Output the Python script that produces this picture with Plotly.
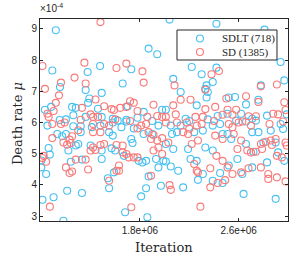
import plotly.graph_objects as go

# Iteration (in millions) and death rate (in units of 1e-4)
sdlt_iter_m = [
    1.118, 1.09, 1.376, 1.477, 1.152, 1.36, 1.49, 1.39, 1.38, 1.08, 1.25, 1.28, 1.46, 1.03,
    1.26, 1.20, 1.15, 1.36, 1.49, 1.05, 1.26, 1.32, 1.41, 1.48, 1.13, 1.17, 1.20, 1.32,
    1.30, 1.28, 1.22, 1.40, 1.06, 1.07, 1.00, 1.33, 1.24, 1.49, 1.49, 1.00, 1.04, 1.21,
    1.33, 1.10, 1.01, 1.18, 1.87, 1.94, 1.73, 1.66, 1.70, 1.83, 1.98, 1.58, 1.69, 1.78,
    1.58, 1.62, 1.69, 1.75, 1.95, 1.55, 1.58, 1.83, 1.90, 1.73, 1.74, 1.57, 1.60, 1.67,
    1.79, 1.82, 1.85, 1.93, 1.99, 1.95, 1.59, 1.87, 1.54, 1.55, 1.85, 1.97, 1.81, 1.68,
    1.86, 2.04, 2.42, 2.22, 2.42, 2.07, 2.30, 2.39, 2.34, 2.33, 2.35, 2.34, 2.13, 2.26,
    2.01, 2.43, 2.17, 2.05, 2.13, 2.10, 2.06, 2.24, 2.31, 2.39, 2.47, 2.01, 2.07, 2.19,
    2.33, 2.39, 2.01, 2.05, 2.11, 2.21, 2.26, 2.31, 2.27, 2.45, 2.39, 2.47, 2.15, 2.81,
    2.94, 2.97, 2.78, 2.52, 2.57, 2.66, 2.76, 2.62, 2.51, 2.71, 2.83, 2.99, 2.58, 2.66,
    2.74, 2.94, 2.96, 2.51, 2.54, 2.71, 2.76, 2.86, 2.66, 2.80, 2.90, 2.59, 2.72, 2.83,
    2.92, 2.97, 2.52, 2.71, 2.63, 2.64, 2.90, 2.20, 2.35, 2.45, 1.90, 1.65,
]
sdlt_rate = [
    8.96, 7.67, 7.62, 7.81, 7.14, 7.04, 6.95, 6.77, 6.63, 6.50, 6.50, 6.47, 6.44, 6.41,
    6.23, 6.10, 6.08, 6.18, 6.18, 5.90, 5.88, 5.88, 5.85, 5.90, 5.63, 5.56, 5.63, 5.69,
    5.31, 5.26, 5.10, 5.26, 5.18, 4.97, 4.78, 4.81, 4.74, 5.10, 4.83, 4.56, 4.35, 3.81,
    3.74, 3.60, 3.52, 2.85, 8.37, 8.19, 7.71, 7.25, 6.52, 6.34, 6.41, 6.12, 6.09, 6.15,
    6.00, 6.06, 6.03, 5.81, 5.90, 5.69, 5.58, 5.63, 5.63, 5.47, 5.34, 5.17, 5.10, 4.93,
    4.77, 4.72, 4.77, 4.83, 4.77, 4.56, 4.40, 4.27, 4.21, 3.89, 3.89, 3.97, 3.63, 3.12,
    2.96, 9.30, 9.17, 7.78, 7.76, 7.40, 7.55, 7.30, 7.19, 7.08, 6.98, 6.80, 6.98, 6.55,
    6.41, 6.21, 6.12, 5.90, 5.90, 5.69, 5.63, 5.69, 5.74, 5.90, 5.63, 5.31, 5.15, 5.15,
    5.20, 5.10, 4.75, 4.59, 4.45, 4.83, 4.77, 4.35, 4.16, 4.38, 4.13, 4.06, 3.92, 8.98,
    7.94, 7.35, 7.19, 6.80, 6.82, 6.58, 6.73, 6.28, 6.28, 6.12, 6.22, 6.26, 6.06, 6.03,
    6.06, 5.95, 5.79, 5.63, 5.47, 5.69, 5.69, 5.74, 5.31, 5.36, 5.36, 4.83, 5.06, 4.72,
    5.04, 4.77, 4.62, 4.56, 4.35, 3.71, 3.55, 6.05, 6.10, 5.95, 6.05, 5.85,
]

sd_iter_m = [
    1.01, 1.35, 1.27, 1.16, 1.36, 1.03, 1.144, 1.44, 1.118, 1.33, 1.10, 1.05, 1.06, 1.40,
    1.42, 1.46, 1.32, 1.09, 1.16, 1.19, 1.42, 1.42, 1.48, 1.25, 1.09, 1.18, 1.23, 1.24,
    1.21, 1.42, 1.40, 1.44, 1.48, 1.02, 1.01, 1.04, 1.28, 1.36, 1.20, 1.25, 1.23, 1.38,
    1.07, 1.48, 1.61, 1.69, 1.82, 1.83, 1.51, 1.57, 1.59, 1.64, 1.69, 1.72, 1.75, 1.78,
    1.91, 1.94, 1.98, 1.86, 1.51, 1.55, 1.81, 1.78, 1.87, 1.91, 1.89, 1.94, 1.98, 1.51,
    1.61, 1.66, 1.66, 1.69, 1.71, 1.75, 1.78, 1.91, 1.95, 1.98, 1.63, 1.63, 1.61, 1.55,
    1.89, 1.73, 2.44, 2.38, 2.08, 2.13, 2.21, 2.07, 2.50, 2.41, 2.33, 2.09, 2.01, 2.25,
    2.31, 2.47, 2.01, 2.10, 2.18, 2.19, 2.15, 2.26, 2.27, 2.41, 2.47, 2.03, 2.22, 2.42,
    2.47, 2.24, 2.26, 2.27, 2.37, 2.49, 2.43, 2.37, 2.04, 2.05, 2.29, 2.78, 2.91, 2.66,
    2.76, 2.58, 2.55, 2.51, 2.68, 2.74, 2.92, 2.88, 2.98, 2.52, 2.60, 2.63, 2.96, 2.56,
    2.62, 2.78, 2.82, 2.86, 2.87, 2.90, 2.98, 2.79, 2.99, 2.59, 2.67, 2.70, 2.74, 2.95,
    2.91, 2.51, 2.55, 2.62, 2.68, 2.78, 2.84, 2.91, 2.98, 2.84, 2.33, 2.97, 1.60, 1.72,
    2.20, 2.30, 2.40, 1.85, 2.55, 2.70, 2.85, 1.30,
]
sd_rate = [
    7.81, 7.92, 7.44, 7.28, 7.25, 7.08, 6.87, 6.74, 6.63, 6.47, 6.37, 6.28, 6.18, 6.26,
    6.18, 6.18, 6.09, 5.95, 5.95, 6.00, 5.95, 5.69, 5.69, 5.56, 5.50, 5.36, 5.45, 5.34,
    5.29, 5.20, 5.10, 5.12, 5.28, 4.93, 4.86, 4.74, 4.81, 4.81, 4.56, 4.43, 4.38, 4.49,
    3.30, 9.22, 7.75, 7.89, 7.64, 7.28, 6.52, 6.43, 6.40, 6.47, 6.50, 6.68, 6.63, 6.37,
    6.57, 6.21, 6.18, 6.18, 5.95, 5.90, 5.90, 5.81, 5.69, 5.60, 5.47, 5.42, 5.50, 5.31,
    5.28, 5.26, 5.04, 4.99, 4.88, 4.88, 4.88, 5.10, 5.20, 4.99, 4.62, 4.45, 4.45, 4.13,
    4.29, 3.28, 7.65, 7.55, 7.19, 6.73, 6.73, 6.55, 6.77, 6.50, 6.43, 6.26, 6.18, 6.18,
    6.18, 6.25, 6.00, 6.00, 6.00, 5.63, 5.69, 5.90, 5.42, 5.58, 5.47, 5.36, 5.31, 4.93,
    4.77, 4.67, 4.45, 4.40, 4.53, 4.15, 4.06, 3.92, 3.99, 3.84, 3.30, 7.16, 7.22, 6.84,
    6.66, 6.41, 6.25, 6.41, 6.20, 6.20, 6.26, 6.28, 6.40, 5.95, 6.00, 6.03, 6.03, 5.63,
    5.42, 5.31, 5.38, 5.42, 5.28, 5.47, 5.36, 5.15, 5.26, 5.15, 5.10, 5.04, 5.06, 4.88,
    4.93, 4.56, 4.35, 4.40, 4.53, 4.56, 4.35, 4.24, 4.11, 4.19, 7.05, 6.65, 6.10, 6.05,
    5.80, 5.95, 6.05, 5.95, 5.85, 5.90, 5.95, 5.75,
]

series_names = ["SDLT (718)", "SD (1385)"]
x_tick_vals = [1.8e6, 2.6e6]
x_tick_text = ["1.8e+06", "2.6e+06"]
y_tick_vals = [3, 4, 5, 6, 7, 8, 9]

sdlt_iter = [v * 1e6 for v in sdlt_iter_m]
sd_iter = [v * 1e6 for v in sd_iter_m]

BLUE = "rgb(70,192,242)"
RED = "rgb(248,122,122)"
INK = "#262626"
SERIF = "DejaVu Serif, Liberation Serif, serif"
LEG_SERIF = "Liberation Serif, Times New Roman, serif"
SANS = "Liberation Sans, Arial, sans-serif"
colors = [BLUE, RED]

fig = go.Figure()
for xs, ys, name, col in [(sdlt_iter, sdlt_rate, series_names[0], BLUE),
                          (sd_iter, sd_rate, series_names[1], RED)]:
    fig.add_trace(go.Scatter(
        x=xs, y=ys, mode="markers", name=name, showlegend=False,
        marker=dict(symbol="circle-open", size=7, color=col, line=dict(width=1.1, color=col)),
    ))

axis_common = dict(
    showgrid=False, zeroline=False, showline=True, linecolor=INK, linewidth=1,
    mirror="ticks", ticks="inside", ticklen=3, tickcolor=INK,
    tickfont=dict(family=SANS, size=10, color=INK),
)

# compact legend box (paper coordinates of the plot area)
leg_x0, leg_x1, leg_y0, leg_y1 = 0.5524, 0.9556, 0.797, 0.9455
leg_sym_x, leg_txt_x = 0.645, 0.726
leg_rows_y = [0.9035, 0.8366]

shapes = [dict(type="rect", xref="paper", yref="paper", x0=leg_x0, x1=leg_x1,
               y0=leg_y0, y1=leg_y1, line=dict(color=INK, width=1), fillcolor="white",
               layer="above")]
annotations = []
for name, col, ry in zip(series_names, colors, leg_rows_y):
    shapes.append(dict(type="circle", xref="paper", yref="paper", xsizemode="pixel",
                       ysizemode="pixel", xanchor=leg_sym_x, yanchor=ry,
                       x0=-3.5, x1=3.5, y0=-3.5, y1=3.5,
                       line=dict(color=col, width=1.1), layer="above"))
    annotations.append(dict(text=name, xref="paper", yref="paper", x=leg_txt_x, y=ry,
                            xanchor="left", yanchor="middle", showarrow=False,
                            font=dict(family=LEG_SERIF, size=11, color=INK)))

annotations += [
    dict(text="×10<sup>-4</sup>", xref="paper", yref="paper", x=0, y=1,
         xanchor="left", yanchor="bottom", showarrow=False, yshift=3, xshift=-2,
         font=dict(family=SANS, size=10, color=INK)),
    dict(text="Iteration", xref="paper", yref="paper", x=0.5, y=-0.129,
         xanchor="center", yanchor="middle", showarrow=False,
         font=dict(family=SERIF, size=13, color=INK)),
    dict(text="Death rate <i>μ</i>", xref="paper", yref="paper", x=-0.0927, y=0.48,
         xanchor="center", yanchor="middle", showarrow=False, textangle=-90,
         font=dict(family=SERIF, size=13, color=INK)),
]

fig.update_layout(
    width=299, height=257,
    margin=dict(l=40, r=11, t=19, b=36),
    paper_bgcolor="white", plot_bgcolor="white",
    showlegend=False,
    xaxis=dict(range=[0.99e6, 3.0e6], tickvals=x_tick_vals, ticktext=x_tick_text, **axis_common),
    yaxis=dict(range=[2.84, 9.32], tickvals=y_tick_vals, **axis_common),
    shapes=shapes,
    annotations=annotations,
)

fig.write_html("out.html", config={"displayModeBar": False},
               post_script="document.body.style.margin='0';document.body.style.overflow='hidden';")
